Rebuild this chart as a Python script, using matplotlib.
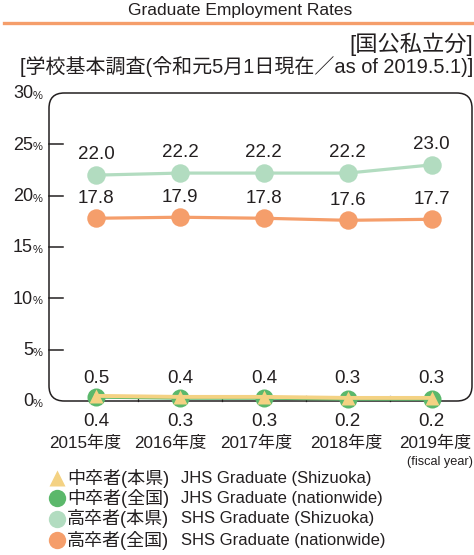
import matplotlib
matplotlib.use("Agg")
import matplotlib.pyplot as plt
from matplotlib.patches import FancyBboxPatch
from matplotlib.lines import Line2D

plt.rcParams['font.family'] = ['Liberation Sans', 'Noto Sans CJK JP', 'DejaVu Sans']

years = ["2015年度", "2016年度", "2017年度", "2018年度", "2019年度"]
jhs_shizuoka = [0.5, 0.4, 0.4, 0.3, 0.3]
jhs_nation = [0.4, 0.3, 0.3, 0.2, 0.2]
shs_shizuoka = [22.0, 22.2, 22.2, 22.2, 23.0]
shs_nation = [17.8, 17.9, 17.8, 17.6, 17.7]
yticks = [0, 5, 10, 15, 20, 25, 30]
legend_jp = ["中卒者(本県)", "中卒者(全国)", "高卒者(本県)", "高卒者(全国)"]
legend_en = ["JHS Graduate (Shizuoka)", "JHS Graduate (nationwide)",
             "SHS Graduate (Shizuoka)", "SHS Graduate (nationwide)"]

C_YEL = "#f4d283"
C_GRN = "#5bb86b"
C_LGR = "#b2dcc0"
C_ORG = "#f59e6b"
TXT = "#231f20"

W, H = 474, 555
fig = plt.figure(figsize=(W / 100, H / 100), dpi=100)

def fx(px):
    return px / W

def fy(py):
    return 1 - py / H

# title and orange rule
fig.text(fx(240), fy(10), "Graduate Employment Rates", ha="center", va="center",
         fontsize=12.5, color=TXT)
fig.add_artist(Line2D([fx(4), fx(474)], [fy(23), fy(23)], color=C_ORG, lw=2.4))
fig.text(fx(473), fy(44), "[国公私立分]", ha="right", va="center", fontsize=16, color=TXT)
fig.text(fx(473), fy(67), "[学校基本調査(令和元5月1日現在／as of 2019.5.1)]", ha="right",
         va="center", fontsize=14.4, color=TXT)

# axes
L, R, T, B = 49, 472, 93, 401
ax = fig.add_axes([fx(L), fy(B), (R - L) / W, (B - T) / H])
x = list(range(len(years)))
ax.set_xlim(-0.56, 4.48)
ax.set_ylim(0, 30)
ax.axis("off")

box = FancyBboxPatch((0, 0), 1, 1, boxstyle="round,pad=0,rounding_size=0.036",
                     mutation_aspect=(R - L) / (B - T), transform=ax.transAxes,
                     fill=False, ec=TXT, lw=1.1, clip_on=False)
ax.add_patch(box)

# left ticks
for v in yticks[1:-1]:
    ax.plot([-0.56, -0.39], [v, v], color=TXT, lw=1.1, clip_on=False)
# bottom ticks
for i in range(len(years) - 1):
    ax.plot([i + 0.5, i + 0.5], [0, 0.5], color=TXT, lw=0.9, clip_on=False)

# y tick labels
for v in yticks:
    ypx = B - (B - T) * v / 30
    fig.text(fx(33), fy(ypx + 1), str(v), ha="right", va="center", fontsize=13, color=TXT)
    fig.text(fx(33), fy(ypx + 3), "%", ha="left", va="center", fontsize=8, color=TXT)

# series
ax.plot(x, shs_shizuoka, color=C_LGR, lw=2.3, marker="o", ms=13.3, mec="none", clip_on=False, zorder=3)
ax.plot(x, shs_nation, color=C_ORG, lw=2.3, marker="o", ms=13.3, mec="none", clip_on=False, zorder=3)
ax.plot(x, jhs_nation, color=C_GRN, lw=2.6, marker="o", ms=13, mec="none",
        clip_on=False, zorder=4)
ax.plot(x, jhs_shizuoka, color=C_YEL, lw=2.8, marker="^", ms=10.5, mec="none",
        clip_on=False, zorder=5)

year_dx = [-11, -10, -8, -1, 4]
for i in x:
    ax.annotate(f"{shs_shizuoka[i]:.1f}", (i, shs_shizuoka[i]), xytext=(0, 14.5),
                textcoords="offset points", ha="center", va="center", fontsize=13.5, color=TXT)
    ax.annotate(f"{shs_nation[i]:.1f}", (i, shs_nation[i]), xytext=(0, 14.5),
                textcoords="offset points", ha="center", va="center", fontsize=13.5, color=TXT)
    ax.annotate(f"{jhs_shizuoka[i]:.1f}", (i, 0), xytext=(0, 16.5),
                textcoords="offset points", ha="center", va="center", fontsize=13.5, color=TXT)
    ax.annotate(f"{jhs_nation[i]:.1f}", (i, 0), xytext=(0, -14.5),
                textcoords="offset points", ha="center", va="center", fontsize=13.5, color=TXT)
    ax.annotate(years[i], (i, 0), xytext=(year_dx[i] * 0.72, -30.5),
                textcoords="offset points", ha="center", va="center", fontsize=12.3, color=TXT)

fig.text(fx(473), fy(462), "(fiscal year)", ha="right", va="center", fontsize=9.2, color=TXT)

# legend
markers = [("^", C_YEL, 11), ("o", C_GRN, 12.5), ("o", C_LGR, 12.5), ("o", C_ORG, 12.5)]
rows = [478, 498, 519, 540]
for (m, c, s), jp, en, ry in zip(markers, legend_jp, legend_en, rows):
    fig.add_artist(Line2D([fx(57)], [fy(ry)], marker=m, color=c, ms=s, mec="none", ls="none"))
    fig.text(fx(67), fy(ry), jp, ha="left", va="center", fontsize=13, color=TXT)
    fig.text(fx(181), fy(ry), en, ha="left", va="center", fontsize=12, color=TXT)

fig.savefig("out.png", dpi=100)
